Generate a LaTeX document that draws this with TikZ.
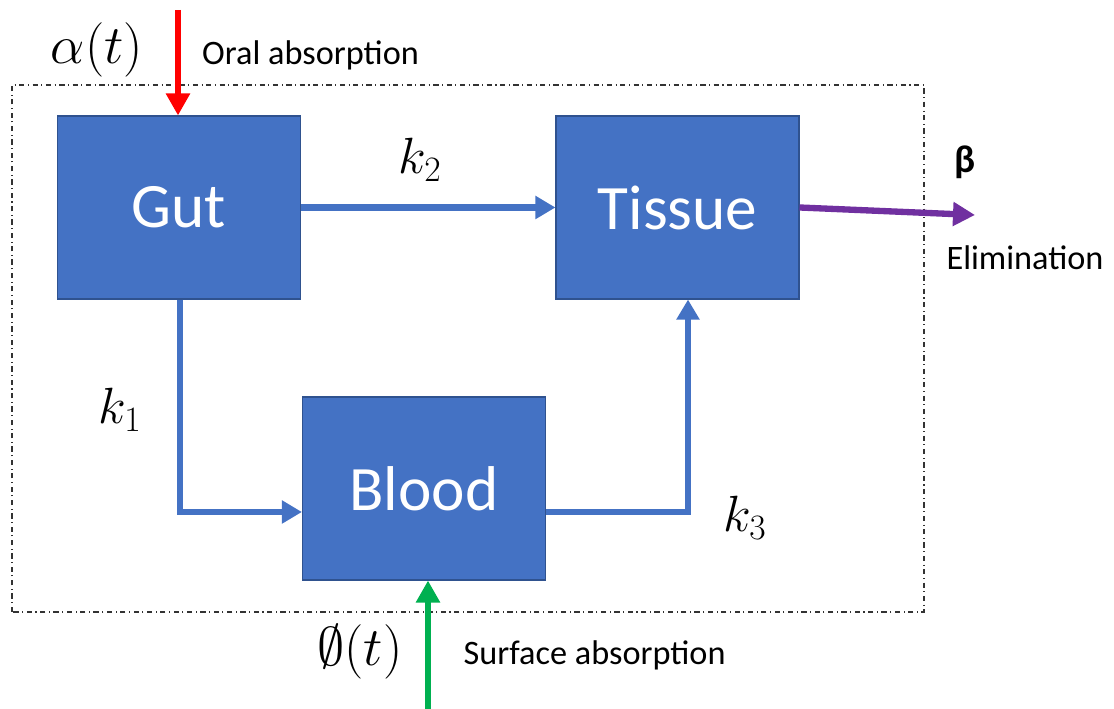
\documentclass[tikz,border=0pt]{standalone}
\usepackage{amsmath,amssymb}
\usepackage{fix-cm}
\usepackage{fontspec}
\setmainfont{Carlito}
\usepackage{xcolor}
\usetikzlibrary{arrows.meta}
\definecolor{boxfill}{HTML}{4472C4}
\definecolor{boxline}{HTML}{2F528F}
\definecolor{flow}{HTML}{4472C4}
\definecolor{oral}{HTML}{FF0000}
\definecolor{surface}{HTML}{00B050}
\definecolor{elim}{HTML}{7030A0}
\tikzset{
  compart/.style={draw=boxline, line width=0.6pt, fill=boxfill, text=white,
    minimum width=4.86cm, minimum height=3.66cm, inner sep=0pt,
    font=\fontsize{36}{40}\selectfont},
  flowarrow/.style={draw=flow, line width=3.6pt, -{Triangle[length=0.4cm,width=0.44cm]}},
  inarrow/.style={line width=3.6pt, -{Triangle[length=0.44cm,width=0.46cm]}},
  rate/.style={font=\fontsize{29}{34}\selectfont},
  source/.style={font=\fontsize{31}{36}\selectfont},
  lab/.style={font=\fontsize{19.5}{23}\selectfont},
  system/.style={draw=black!80, line width=0.6pt, dash dot}
}
\begin{document}
\begin{tikzpicture}
  \useasboundingbox (0,0) rectangle (22.28,14.18);

  % system boundary
  \draw[system] (0.24,1.94) rectangle (18.48,12.48);

  % compartments
  \node[compart] (gut) at (3.58,10.03) {Gut};
  \node[compart] (tissue) at (13.55,10.03) {Tissue};
  \node[compart] (blood) at (8.48,4.41) {Blood};

  % transfer between compartments
  \draw[flowarrow] (gut.east) -- (gut.east -| tissue.west);
  \coordinate (gutbend) at (3.6,3.94);
  \draw[flowarrow] (gut.south -| gutbend) -- (gutbend) -- (gutbend -| blood.west);
  \coordinate (bloodbend) at (13.76,3.94);
  \draw[flowarrow] (bloodbend -| blood.east) -- (bloodbend) -- (bloodbend |- tissue.south);

  \node[rate] (ktwo) at (8.4,10.98) {$k_2$};
  \node[rate] (kone) at (2.4,5.98) {$k_1$};
  \node[rate] (kthree) at (14.9,3.82) {$k_3$};

  % inputs
  \coordinate (oralin) at (3.56,13.98);
  \draw[inarrow, oral] (oralin) -- (oralin |- gut.north);
  \node[source] (alpha) at (1.94,13.18) {$\alpha(t)$};
  \node[lab, anchor=west] (orallab) at (3.92,13.08) {Oral absorption};

  \coordinate (surfin) at (8.56,0);
  \draw[inarrow, surface] (surfin) -- (surfin |- blood.south);
  \node[source] (phi) at (7.2,1.14) {$\emptyset(t)$};
  \node[lab, anchor=west] (surflab) at (9.15,1.08) {Surface absorption};

  % output
  \coordinate (elimout) at (19.5,9.88);
  \draw[inarrow, elim] (tissue.east) -- (elimout);
  \node[font=\fontsize{22}{26}\selectfont\bfseries] (beta) at (19.3,10.94) {β};
  \node[lab] (elimlab) at (20.5,9.02) {Elimination};
\end{tikzpicture}
\end{document}
